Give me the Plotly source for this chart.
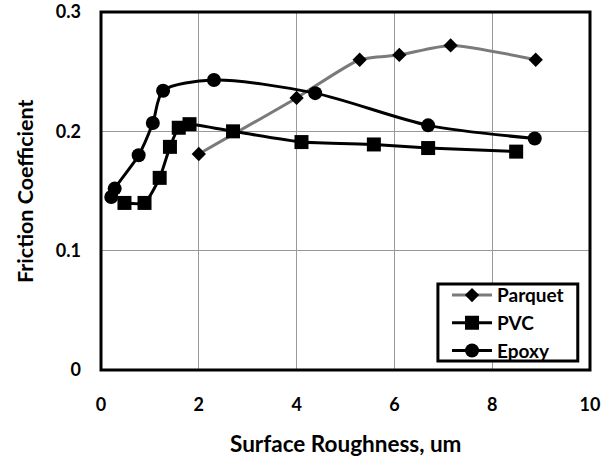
import plotly.graph_objects as go

parquet_x = [2.0, 4.0, 5.29, 6.1, 7.15, 8.89]
parquet_y = [0.181, 0.228, 0.260, 0.264, 0.272, 0.260]

pvc_x = [0.48, 0.89, 1.20, 1.41, 1.59, 1.81, 2.70, 4.10, 5.58, 6.69, 8.49]
pvc_y = [0.140, 0.140, 0.161, 0.187, 0.203, 0.206, 0.200, 0.191, 0.189, 0.186, 0.183]

epoxy_x = [0.21, 0.28, 0.77, 1.06, 1.27, 2.31, 4.38, 6.69, 8.87]
epoxy_y = [0.145, 0.152, 0.180, 0.207, 0.234, 0.243, 0.232, 0.205, 0.194]

x_ticks = [0, 2, 4, 6, 8, 10]
y_ticks = [0, 0.1, 0.2, 0.3]
y_tick_text = ["0", "0.1", "0.2", "0.3"]

x_title = "Surface Roughness, um"
y_title = "Friction Coefficient"

FONT = "Lato"

fig = go.Figure()
fig.add_trace(go.Scatter(
    x=parquet_x, y=parquet_y, name="Parquet", mode="lines+markers",
    line=dict(color="#7a7a7a", width=3, shape="spline", smoothing=0.6),
    marker=dict(symbol="diamond", size=11, color="black"),
))
fig.add_trace(go.Scatter(
    x=pvc_x, y=pvc_y, name="PVC", mode="lines+markers",
    line=dict(color="black", width=3, shape="spline", smoothing=0.5),
    marker=dict(symbol="square", size=14, color="black"),
))
fig.add_trace(go.Scatter(
    x=epoxy_x, y=epoxy_y, name="Epoxy", mode="lines+markers",
    line=dict(color="black", width=3, shape="spline", smoothing=0.8),
    marker=dict(symbol="circle", size=14, color="black"),
))

fig.update_layout(
    width=606, height=457,
    margin=dict(l=101, r=16, t=12, b=87),
    paper_bgcolor="white", plot_bgcolor="white",
    font=dict(family=FONT, size=18, color="black"),
    showlegend=True,
    legend=dict(
        x=0.7076, y=0.262, xanchor="left", yanchor="top",
        bgcolor="rgba(0,0,0,0)", borderwidth=0,
        font=dict(family=FONT, size=19, color="black", weight="bold"),
        itemwidth=40, tracegroupgap=0,
    ),
    xaxis=dict(
        range=[0, 10], tickvals=x_ticks, automargin=False,
        showgrid=True, gridcolor="#999999", gridwidth=1,
        zeroline=False, showline=False, ticks="",
        ticklabelstandoff=22,
        tickfont=dict(family=FONT, size=18, weight="bold"),
    ),
    yaxis=dict(
        range=[0, 0.3], tickvals=y_ticks, ticktext=y_tick_text, automargin=False,
        showgrid=True, gridcolor="#999999", gridwidth=1,
        zeroline=False, showline=False, ticks="",
        ticklabelstandoff=19,
        tickfont=dict(family=FONT, size=18, weight="bold"),
    ),
    shapes=[
        dict(type="rect", xref="paper", yref="paper", x0=0, y0=0, x1=1, y1=1,
             line=dict(color="black", width=3), layer="above"),
        dict(type="rect", xref="paper", yref="paper", x0=0.689, y0=0.025, x1=0.975, y1=0.240,
             line=dict(color="black", width=3), fillcolor="white", layer="above"),
    ],
    annotations=[
        dict(text=x_title, xref="paper", yref="paper", x=0.5, y=0,
             xanchor="center", yanchor="middle", yshift=-73, showarrow=False,
             font=dict(family=FONT, size=22.5, color="black", weight="bold")),
        dict(text=y_title, xref="paper", yref="paper", x=0, y=0.5,
             xanchor="center", yanchor="middle", xshift=-76, textangle=-90,
             showarrow=False, font=dict(family=FONT, size=21.5, color="black", weight="bold")),
    ],
)

fig.write_html("out.html", config={"displayModeBar": False},
               post_script="document.body.style.margin='0';")
